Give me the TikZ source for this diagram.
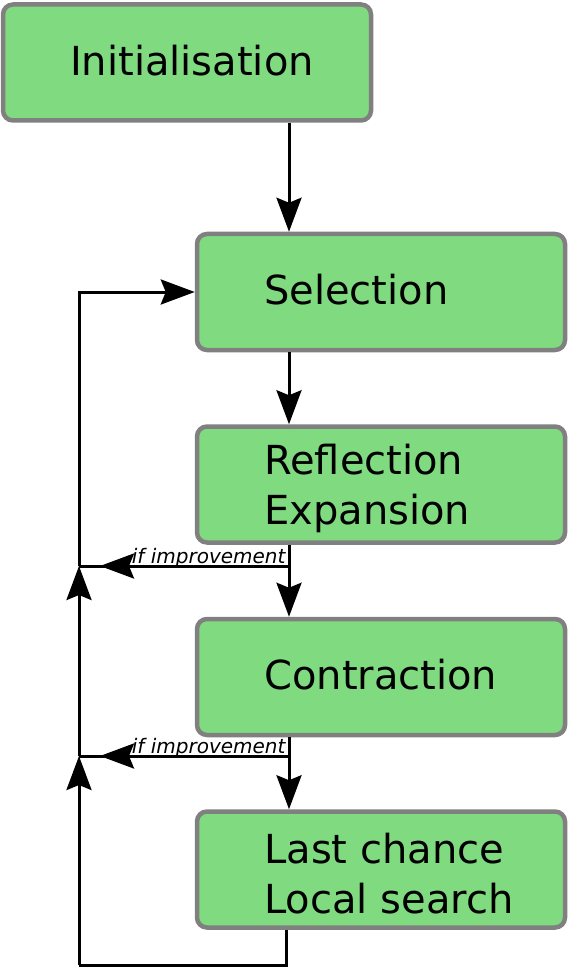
\documentclass[tikz,border=0pt]{standalone}
\usepackage{fontspec}
\setmainfont{DejaVu Sans}
\usetikzlibrary{arrows.meta, positioning}
\definecolor{boxgreen}{HTML}{80DA7F}
\definecolor{boxgray}{HTML}{808080}

\begin{document}
\begin{tikzpicture}[x=1pt, y=-1pt, node distance=72pt, ->,
	>={Stealth[length=34pt, width=25pt, inset=5pt]}, line width=3pt]

	\tikzset{node box/.style={rectangle, rounded corners=10pt, draw=boxgray,
			fill=boxgreen, line width=4.5pt,
			minimum width=368pt, minimum height=116pt}}
	\tikzset{node txt/.style={inner sep=0pt, align=left,
			font=\fontsize{40}{50}\selectfont}}
	\tikzset{node cond/.style={inner sep=0pt, anchor=base east,
			font=\fontsize{20}{22}\selectfont\itshape}}

	\useasboundingbox (0,0) rectangle (569,968);

	\node[node box] (init) at (187,62.5) {};
	\node[node box, below=109pt of init, xshift=194pt] (sel) {};
	\node[node box, below=of sel] (refl) {};
	\node[node box, below=of refl] (contr) {};
	\node[node box, below=of contr] (last) {};

	\node[node txt] (tinit) at ([xshift=5pt, yshift=2pt]init.center) {Initialisation};
	\node[node txt, anchor=west] (tsel) at ([xshift=68pt, yshift=2pt]sel.west) {Selection};
	\node[node txt, anchor=west] (trefl) at ([xshift=68pt, yshift=-4pt]refl.west) {Reflection\\Expansion};
	\node[node txt, anchor=west] (tcontr) at ([xshift=68pt, yshift=2pt]contr.west) {Contraction};
	\node[node txt, anchor=west] (tlast) at ([xshift=68pt, yshift=-4pt]last.west) {Last chance\\Local search};

	\coordinate (spine) at (289,0);
	\coordinate (b1) at (289,566);
	\coordinate (b2) at (289,756);
	\coordinate (j1) at (79,566);
	\coordinate (j2) at (79,756);
	\coordinate (tail) at (286,965);
	\coordinate (loop) at (79,965);

	\draw (spine |- init.south) -- (spine |- sel.north);
	\draw (spine |- sel.south) -- (spine |- refl.north);
	\draw (spine |- refl.south) -- (spine |- contr.north);
	\draw (spine |- contr.south) -- (spine |- last.north);

	\foreach \b/\j in {b1/j1, b2/j2} {
		\draw[-] (\b) -- (\j);
		\draw[shorten >=21pt] (\b) -- (\j);
		\node[node cond] at ([xshift=-2pt, yshift=3pt]\b) {if improvement};
	};

	\draw[-] (tail |- last.south) -- (tail) -- (loop);
	\draw (loop) -- (j2);
	\draw (j2) -- (j1);
	\draw (j1) |- (sel.west);

\end{tikzpicture}
\end{document}
